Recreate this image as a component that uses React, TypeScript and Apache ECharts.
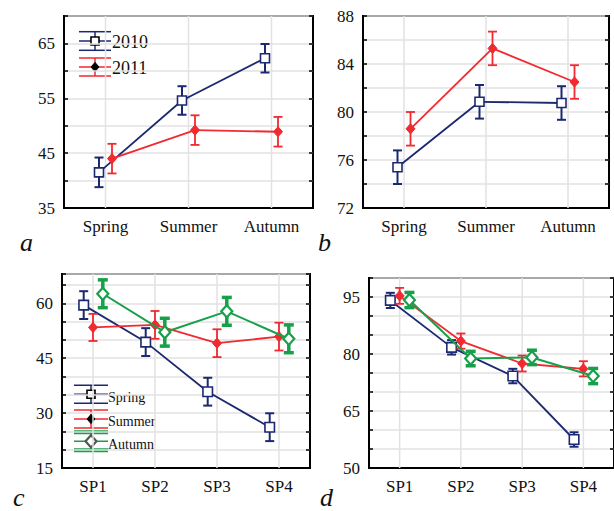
import React, { useEffect, useRef } from "react";
import * as echarts from "echarts";

// ---------- data ----------
const seasons = ["Spring", "Summer", "Autumn"];
const sites = ["SP1", "SP2", "SP3", "SP4"];

// panel a
const a2010 = [41.5, 54.6, 62.3];
const a2010Err = [2.7, 2.6, 2.6];
const a2011 = [44.0, 49.2, 48.9];
const a2011Err = [2.7, 2.7, 2.7];
const aTickLabels = [35, 45, 55, 65];

// panel b
const b2010 = [75.4, 80.85, 80.75];
const b2010Err = [1.4, 1.4, 1.4];
const b2011 = [78.6, 85.3, 82.5];
const b2011Err = [1.4, 1.4, 1.4];
const bTickLabels = [72, 76, 80, 84, 88];

// panel c
const cSpring = [59.5, 49.4, 35.85, 26.15];
const cSpringErr = [3.8, 3.8, 3.8, 3.8];
const cSummer = [53.4, 54.1, 49.1, 50.9];
const cSummerErr = [3.7, 3.8, 3.8, 3.8];
const cAutumn = [62.6, 52.1, 57.8, 50.3];
const cAutumnErr = [3.8, 3.8, 3.8, 3.8];
const cTickLabels = [15, 30, 45, 60];

// panel d
const dSpring = [94.1, 81.75, 74.2, 57.5];
const dSpringErr = [2.0, 1.9, 1.9, 1.9];
const dSummer = [95.3, 83.4, 77.5, 76.1];
const dSummerErr = [2.1, 2.0, 2.1, 2.0];
const dAutumn = [94.2, 78.8, 79.1, 74.2];
const dAutumnErr = [2.0, 1.9, 1.9, 2.0];
const dTickLabels = [50, 65, 80, 95];

// ---------- styles ----------
const FONT = "'Liberation Serif', 'Times New Roman', serif";
const BLUE = "#1c2870";
const RED = "#f02a30";
const GREEN = "#17a04a";
const GRIDC = "#e2e2e2";

type Marker = "square" | "diamondFilled" | "diamondHollow";
interface St {
  color: string;
  lineWidth: number;
  errWidth: number;
  capHalf: number;
  marker: Marker;
  size: number;
  dx: number;
}

function markerShape(kind: Marker, x: number, y: number, s: number, color: string) {
  if (kind === "square") {
    return {
      type: "rect",
      shape: { x: x - s / 2, y: y - s / 2, width: s, height: s },
      style: { fill: "#fff", stroke: color, lineWidth: 1.6 },
    };
  }
  const w = s / 2;
  const h = s / 2 + 0.6;
  return {
    type: "polygon",
    shape: { points: [[x, y - h], [x + w, y], [x, y + h], [x - w, y]] },
    style:
      kind === "diamondFilled"
        ? { fill: color, stroke: color, lineWidth: 1 }
        : { fill: "#fff", stroke: color, lineWidth: 2.2 },
  };
}

function makeSeries(name: string, g: number, values: number[], errs: number[], st: St, z: number) {
  return {
    type: "custom",
    name,
    xAxisIndex: 2 * g,
    yAxisIndex: 2 * g,
    z,
    data: values.map((v, i) => [i, v, errs[i]]),
    encode: { x: 0, y: 1 },
    renderItem: (params: any, api: any) => {
      const i = params.dataIndex;
      const c = api.coord([i, values[i]]);
      const x = c[0] + st.dx;
      const y = c[1];
      const yHi = api.coord([i, values[i] + errs[i]])[1];
      const yLo = api.coord([i, values[i] - errs[i]])[1];
      const children: any[] = [];
      if (i + 1 < values.length) {
        const n = api.coord([i + 1, values[i + 1]]);
        children.push({
          type: "line",
          shape: { x1: x, y1: y, x2: n[0] + st.dx, y2: n[1] },
          style: { stroke: st.color, lineWidth: st.lineWidth },
        });
      }
      children.push({
        type: "line",
        shape: { x1: x, y1: yHi, x2: x, y2: yLo },
        style: { stroke: st.color, lineWidth: st.errWidth },
      });
      children.push({
        type: "line",
        shape: { x1: x - st.capHalf, y1: yHi, x2: x + st.capHalf, y2: yHi },
        style: { stroke: st.color, lineWidth: st.errWidth },
      });
      children.push({
        type: "line",
        shape: { x1: x - st.capHalf, y1: yLo, x2: x + st.capHalf, y2: yLo },
        style: { stroke: st.color, lineWidth: st.errWidth },
      });
      children.push(markerShape(st.marker, x, y, st.size, st.color));
      return { type: "group", children };
    },
  };
}

function vGridSeries(g: number, cats: string[], ymin: number, ymax: number) {
  return {
    type: "custom",
    xAxisIndex: 2 * g,
    yAxisIndex: 2 * g,
    z: 1,
    silent: true,
    data: cats.map((_, i) => [i, ymin]),
    encode: { x: 0, y: 1 },
    renderItem: (params: any, api: any) => {
      const i = params.dataIndex;
      const p0 = api.coord([i, ymin]);
      const p1 = api.coord([i, ymax]);
      return {
        type: "line",
        shape: { x1: p0[0], y1: p0[1], x2: p1[0], y2: p1[1] },
        style: { stroke: GRIDC, lineWidth: 1.5 },
      };
    },
  };
}

function axesFor(g: number, cats: string[], min: number, max: number, interval: number, labels: number[]) {
  const xs = [
    {
      type: "category",
      gridIndex: g,
      data: cats,
      boundaryGap: true,
      axisLine: { lineStyle: { color: "#000", width: 2 } },
      axisTick: { inside: true, alignWithLabel: true, length: 4, lineStyle: { color: "#000", width: 1.5 } },
      axisLabel: { color: "#111", fontFamily: FONT, fontSize: 17, margin: 10 },
      splitLine: { show: false },
    },
    {
      type: "category",
      gridIndex: g,
      position: "top",
      data: cats,
      boundaryGap: true,
      axisLine: { show: false },
      axisTick: { inside: true, alignWithLabel: true, length: 4, lineStyle: { color: "#000", width: 1.5 } },
      axisLabel: { show: false },
      splitLine: { show: false },
    },
  ];
  const ys = [
    {
      type: "value",
      gridIndex: g,
      min,
      max,
      interval,
      axisLine: { show: true, lineStyle: { color: "#000", width: 2 } },
      axisTick: { show: true, inside: true, length: 4, lineStyle: { color: "#000", width: 1.5 } },
      axisLabel: {
        color: "#111",
        fontFamily: FONT,
        fontSize: 17,
        margin: 9,
        formatter: (v: number) => (labels.indexOf(v) >= 0 ? String(v) : ""),
      },
      splitLine: { show: true, lineStyle: { color: GRIDC, width: 1.5 } },
    },
    {
      type: "value",
      gridIndex: g,
      position: "right",
      min,
      max,
      interval,
      axisLine: { show: false },
      axisTick: { show: true, inside: true, length: 4, lineStyle: { color: "#000", width: 1.5 } },
      axisLabel: { show: false },
      splitLine: { show: false },
    },
  ];
  return { xs, ys };
}

function legendIcon(x0: number, x1: number, y: number, capOff: number, color: string, capW: number, lineW: number, marker: Marker, size: number, mcolor: string) {
  const xm = (x0 + x1) / 2;
  return [
    { type: "line", shape: { x1: x0, y1: y, x2: x1, y2: y }, style: { stroke: color, lineWidth: lineW } },
    { type: "line", shape: { x1: x0, y1: y - capOff, x2: x1, y2: y - capOff }, style: { stroke: color, lineWidth: capW } },
    { type: "line", shape: { x1: x0, y1: y + capOff, x2: x1, y2: y + capOff }, style: { stroke: color, lineWidth: capW } },
    { type: "line", shape: { x1: xm, y1: y - capOff, x2: xm, y2: y + capOff }, style: { stroke: color, lineWidth: Math.min(capW, 2) } },
    markerShape(marker, xm, y, size, mcolor),
  ];
}

function legendText(x: number, y: number, text: string, size: number) {
  return {
    type: "text",
    x,
    y,
    style: { text, fill: "#111", font: `${size}px ${FONT}`, verticalAlign: "middle", align: "left" },
  };
}

function panelLetter(x: number, y: number, text: string) {
  return {
    type: "text",
    x,
    y,
    style: { text, fill: "#111", font: `italic 26px ${FONT}`, verticalAlign: "bottom", align: "left" },
  };
}

export default function App() {
  const ref = useRef<HTMLDivElement>(null);
  useEffect(() => {
    if (!ref.current) return;
    const chart = echarts.init(ref.current, undefined, { renderer: "svg" });

    const grids = [
      { left: 64, top: 16, width: 249, height: 192 },
      { left: 363, top: 16, width: 246, height: 192 },
      { left: 62, top: 274, width: 248, height: 194 },
      { left: 369, top: 278, width: 248, height: 190 },
    ].map((g) => ({ ...g, show: true, borderColor: "#000", borderWidth: 2, backgroundColor: "transparent" }));

    const A = axesFor(0, seasons, 35, 70, 5, aTickLabels);
    const B = axesFor(1, seasons, 72, 88, 2, bTickLabels);
    const C = axesFor(2, sites, 15, 68, 5, cTickLabels);
    const D = axesFor(3, sites, 50, 100, 5, dTickLabels);

    const blueAB: St = { color: BLUE, lineWidth: 1.8, errWidth: 2, capHalf: 4.5, marker: "square", size: 9, dx: -6.5 };
    const redAB: St = { color: RED, lineWidth: 1.8, errWidth: 1.8, capHalf: 4.5, marker: "diamondFilled", size: 9, dx: 6.5 };
    const blueCD: St = { color: BLUE, lineWidth: 1.8, errWidth: 2, capHalf: 4.5, marker: "square", size: 9.5, dx: -9.3 };
    const redCD: St = { color: RED, lineWidth: 1.8, errWidth: 1.8, capHalf: 4.5, marker: "diamondFilled", size: 9, dx: 0 };
    const greenCD: St = { color: GREEN, lineWidth: 2, errWidth: 3.5, capHalf: 5, marker: "diamondHollow", size: 11, dx: 9.8 };

    const series: any[] = [
      vGridSeries(0, seasons, 35, 70),
      vGridSeries(1, seasons, 72, 88),
      vGridSeries(2, sites, 15, 68),
      vGridSeries(3, sites, 50, 100),
      makeSeries("2010", 0, a2010, a2010Err, blueAB, 3),
      makeSeries("2011", 0, a2011, a2011Err, redAB, 4),
      makeSeries("2010", 1, b2010, b2010Err, blueAB, 3),
      makeSeries("2011", 1, b2011, b2011Err, redAB, 4),
      makeSeries("Spring", 2, cSpring, cSpringErr, blueCD, 3),
      makeSeries("Summer", 2, cSummer, cSummerErr, redCD, 4),
      makeSeries("Autumn", 2, cAutumn, cAutumnErr, greenCD, 5),
      makeSeries("Spring", 3, dSpring, dSpringErr, blueCD, 3),
      makeSeries("Summer", 3, dSummer, dSummerErr, redCD, 4),
      makeSeries("Autumn", 3, dAutumn, dAutumnErr, greenCD, 5),
    ];

    const graphic: any[] = [
      ...legendIcon(79, 111, 41, 9.3, BLUE, 1.5, 1.5, "square", 8, "#000"),
      legendText(112, 42, "2010", 18),
      ...legendIcon(79, 111, 67, 9, RED, 1.5, 1.5, "diamondFilled", 8, "#000"),
      legendText(112, 68, "2011", 18),
      ...legendIcon(74, 108, 394.3, 9, BLUE, 1.5, 1.5, "square", 8, "#000"),
      legendText(108, 397, "Spring", 14),
      ...legendIcon(74, 108, 419, 9, RED, 1.5, 1.5, "diamondFilled", 8, "#000"),
      legendText(108, 421, "Summer", 14),
      ...legendIcon(74, 108, 441.3, 9, GREEN, 4, 1.5, "diamondHollow", 11, "#555"),
      legendText(108, 444, "Autumn", 14),
      panelLetter(20, 255, "a"),
      panelLetter(318, 255, "b"),
      panelLetter(13, 510, "c"),
      panelLetter(320, 510, "d"),
    ];

    chart.setOption({
      animation: false,
      backgroundColor: "#fff",
      textStyle: { fontFamily: FONT },
      grid: grids,
      xAxis: [...A.xs, ...B.xs, ...C.xs, ...D.xs],
      yAxis: [...A.ys, ...B.ys, ...C.ys, ...D.ys],
      series,
      graphic,
    });
    return () => chart.dispose();
  }, []);
  return <div ref={ref} style={{ position: "absolute", left: 0, top: 0, width: 614, height: 511 }} />;
}
